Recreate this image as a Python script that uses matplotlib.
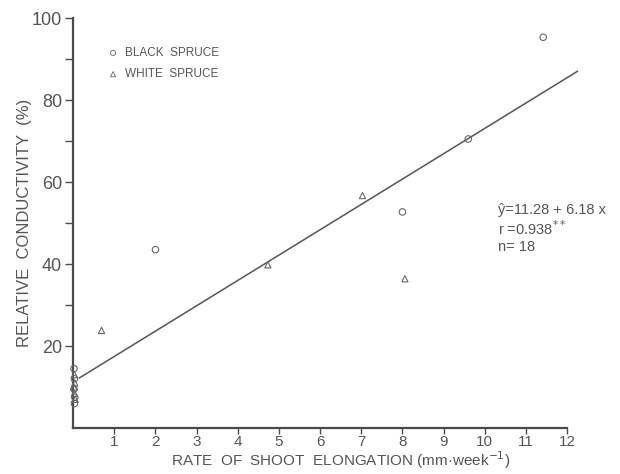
import numpy as np
import matplotlib
matplotlib.use('Agg')
import matplotlib.pyplot as plt

plt.rcParams['font.family'] = ['Liberation Sans', 'DejaVu Sans']

# Black spruce (circles)
black_x = [0.02, 0.03, 0.02, 0.04, 0.03, 2.0, 8.0, 9.6, 11.42]
black_y = [14.5, 12.0, 9.5, 7.5, 6.0, 43.5, 52.7, 70.5, 95.3]
# White spruce (triangles)
white_x = [0.03, 0.04, 0.02, 0.03, 0.05, 0.69, 4.73, 7.03, 8.06]
white_y = [13.0, 11.0, 10.0, 8.5, 7.0, 23.8, 39.8, 56.7, 36.4]

# regression y = 11.28 + 6.18 x
a, b = 11.28, 6.18
fit_x = np.array([0.15, 12.25])

ink = '#4a4a4a'
txt = '#555555'

fig = plt.figure(figsize=(6.2, 4.74), dpi=100)
ax = fig.add_axes([0.118, 0.097, 0.863, 0.865])

ax.plot(fit_x, a + b * fit_x, color='#555555', linewidth=1.1)
ax.scatter(black_x, black_y, marker='o', s=22, facecolors='none',
           edgecolors='#666666', linewidths=0.8, clip_on=False, zorder=3)
ax.scatter(white_x, white_y, marker='^', s=20, facecolors='none',
           edgecolors='#666666', linewidths=0.8, clip_on=False, zorder=3)

ax.set_xlim(0, 13)
ax.set_ylim(0, 100)
ax.spines['top'].set_visible(False)
ax.spines['right'].set_visible(False)
ax.spines['bottom'].set_bounds(0, 12)
for s in ['left', 'bottom']:
    ax.spines[s].set_color(ink)
    ax.spines[s].set_linewidth(1.6)

ax.set_xticks(range(1, 13))
ax.set_yticks([20, 40, 60, 80, 100])
ax.set_yticks([30, 50, 70, 90], minor=True)
ax.tick_params(axis='both', colors=ink, labelcolor=txt, width=1.0)
ax.tick_params(axis='x', length=4, labelsize=11, pad=1)
ax.tick_params(axis='y', which='major', length=6, labelsize=13, pad=2)
ax.tick_params(axis='y', which='minor', length=6, width=1.0, colors=ink)

ax.set_ylabel('RELATIVE  CONDUCTIVITY  (%)', fontsize=12, color=txt, labelpad=0)
ax.set_xlabel('RATE  OF  SHOOT  ELONGATION (mm·week$^{-1}$)', fontsize=11,
              color=txt, labelpad=0)

# legend
ax.scatter([0.97], [91.5], marker='o', s=14, facecolors='none',
           edgecolors='#777777', linewidths=0.7)
ax.text(1.25, 91.5, 'BLACK  SPRUCE', fontsize=8.5, color=txt, va='center')
ax.scatter([0.97], [86.3], marker='^', s=14, facecolors='none',
           edgecolors='#777777', linewidths=0.7)
ax.text(1.25, 86.3, 'WHITE  SPRUCE', fontsize=8.5, color=txt, va='center')

# regression stats
ax.text(10.33, 53.2, 'ŷ=11.28 + 6.18 x', fontsize=10.5, color=txt, va='center')
ax.text(10.33, 48.6, 'r =0.938$^{**}$', fontsize=10.5, color=txt, va='center')
ax.text(10.33, 44.2, 'n= 18', fontsize=10.5, color=txt, va='center')

fig.savefig('out.png', dpi=100, facecolor='white')
